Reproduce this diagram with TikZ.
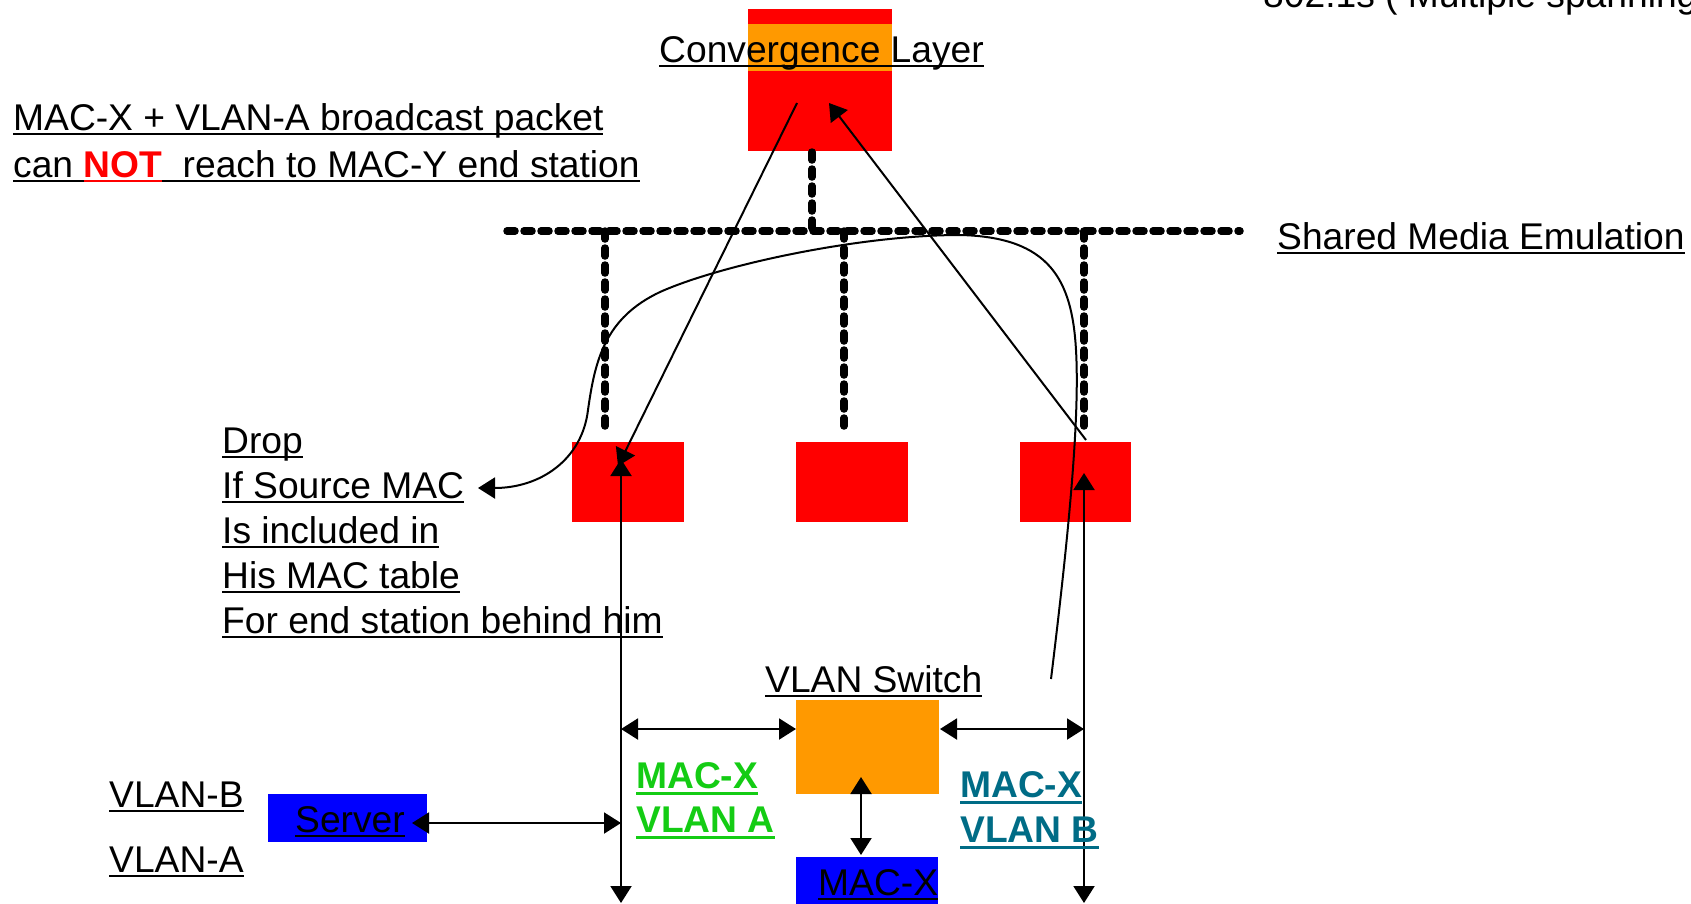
\documentclass[tikz,border=0pt]{standalone}
\usepackage{fontspec}
\setmainfont{Liberation Sans}
\usetikzlibrary{arrows.meta}
\definecolor{cred}{RGB}{255,0,0}
\definecolor{corange}{RGB}{255,153,0}
\definecolor{cblue}{RGB}{0,0,255}
\definecolor{cgreen}{RGB}{20,204,20}
\definecolor{cteal}{RGB}{0,108,134}
\newcommand\ulin[2][black]{\setbox0\hbox{#2}\rlap{\color{#1}\rule[-5pt]{\wd0}{2pt}}\box0}
\newcommand\ulbold[2][black]{\setbox0\hbox{#2}\rlap{\color{#1}\rule[-6.5pt]{\wd0}{3pt}}\box0}
\begin{document}
\begin{tikzpicture}[x=1pt,y=-1pt,
  txt/.style={anchor=base west, inner sep=0pt, font=\fontsize{37.2}{44}\selectfont},
  btxt/.style={anchor=base west, inner sep=0pt, font=\fontsize{37.2}{44}\selectfont\bfseries},
  box/.style={draw=none, inner sep=0pt, anchor=north west},
  conn/.style={line width=2pt, -{Triangle[length=17pt,width=21pt]}},
  dconn/.style={line width=2pt, {Triangle[length=17pt,width=21pt]}-{Triangle[length=17pt,width=21pt]}},
  bus/.style={line width=7.5pt, dash pattern=on 8pt off 9pt, line cap=round}]
\useasboundingbox (0,0) rectangle (1691,903);

% boxes
\node[box, fill=cred, minimum width=144pt, minimum height=142pt] (conv) at (748,9) {};
\node[box, fill=corange, minimum width=144pt, minimum height=47pt] (convband) at (748,24) {};
\node[box, fill=cred, minimum width=112pt, minimum height=80pt] (rA) at (572,442) {};
\node[box, fill=cred, minimum width=112pt, minimum height=80pt] (rB) at (796,442) {};
\node[box, fill=cred, minimum width=111pt, minimum height=80pt] (rC) at (1020,442) {};
\node[box, fill=corange, minimum width=143pt, minimum height=94pt] (vsw) at (796,700) {};
\node[box, fill=cblue, minimum width=142pt, minimum height=50pt] (macx) at (796,857) {};
\node[box, fill=cblue, minimum width=159pt, minimum height=48pt] (server) at (268,794) {};

% shared media bus
\coordinate (busL) at (507,231);
\coordinate (busR) at (1240,231);
\coordinate (convDrop) at (812,152);
\coordinate (busC) at (812,231);
\coordinate (b1) at (605,231);
\coordinate (b2) at (844,231);
\coordinate (b3) at (1084,231);
\coordinate (e1) at (605,433);
\coordinate (e2) at (844,433);
\coordinate (e3) at (1084,433);
\draw[bus] (convDrop) -- (busC);
\draw[bus] (busL) -- (busR);
\draw[bus] (b1) -- (e1);
\draw[bus] (b2) -- (e2);
\draw[bus] (b3) -- (e3);

% connectors
\coordinate (dA) at (797,103);
\coordinate (dAt) at (618,466);
\draw[conn] (dA) -- (dAt);
\coordinate (uC) at (1086,440);
\coordinate (uCt) at (829,103);
\draw[conn] (uC) -- (uCt);

\coordinate (vAt) at (621,459);
\coordinate (vAb) at (621,903);
\draw[dconn] (vAt) -- (vAb);
\coordinate (vCt) at (1084,473);
\coordinate (vCb) at (1084,903);
\draw[dconn] (vCt) -- (vCb);

\coordinate (hL1) at (621,729);
\coordinate (hL2) at (796,729);
\draw[dconn] (hL1) -- (hL2);
\coordinate (hR1) at (940,729);
\coordinate (hR2) at (1084,729);
\draw[dconn] (hR1) -- (hR2);
\coordinate (mv1) at (861,777);
\coordinate (mv2) at (861,855);
\draw[dconn] (mv1) -- (mv2);
\coordinate (sv1) at (412,823);
\coordinate (sv2) at (621,823);
\draw[dconn] (sv1) -- (sv2);

\coordinate (cvS) at (1051,679);
\coordinate (cvE) at (478,488);
\draw[conn] (cvS) .. controls (1068,540) and (1080,420) .. (1076,350)
  .. controls (1072,280) and (1050,237) .. (960,235)
  .. controls (860,235) and (720,265) .. (660,292)
  .. controls (605,318) and (595,360) .. (588,410)
  .. controls (582,460) and (540,488) .. (cvE);

% texts
\node[txt] (t802) at (1263,7) {802.1s ( Multiple spanning};
\node[txt] (tconv) at (659,62) {\ulin{Convergence Layer}};
\node[txt] (msg1) at (13,130) {\ulin{MAC-X + VLAN-A broadcast packet}};
\node[txt] (msg2) at (13,177) {\ulin{can }\ulin[cred]{\textcolor{cred}{\bfseries NOT}}\ulin{\ \ reach to MAC-Y end station}};
\node[txt] (tshared) at (1277,249) {\ulin{Shared Media Emulation}};
\node[txt] (d1) at (222,453) {\ulin{Drop}};
\node[txt] (d2) at (222,498) {\ulin{If Source MAC}};
\node[txt] (d3) at (222,543) {\ulin{Is included in}};
\node[txt] (d4) at (222,588) {\ulin{His MAC table}};
\node[txt] (d5) at (222,633) {\ulin{For end station behind him}};
\node[txt] (tvsw) at (765,692) {\ulin{VLAN Switch}};
\node[btxt, text=cgreen] (g1) at (636,788) {\ulbold[cgreen]{MAC-X}};
\node[btxt, text=cgreen] (g2) at (636,832) {\ulbold[cgreen]{VLAN A}};
\node[btxt, text=cteal] (tl1) at (960,797) {\ulbold[cteal]{MAC-X}};
\node[btxt, text=cteal] (tl2) at (960,842) {\ulbold[cteal]{VLAN B}};
\node[txt] (tserver) at (295,832) {\ulin{Server}};
\node[txt] (tmacx) at (818,895) {\ulin{MAC-X}};
\node[txt] (tvb) at (109,807) {\ulin{VLAN-B}};
\node[txt] (tva) at (109,872) {\ulin{VLAN-A}};
\end{tikzpicture}
\end{document}
